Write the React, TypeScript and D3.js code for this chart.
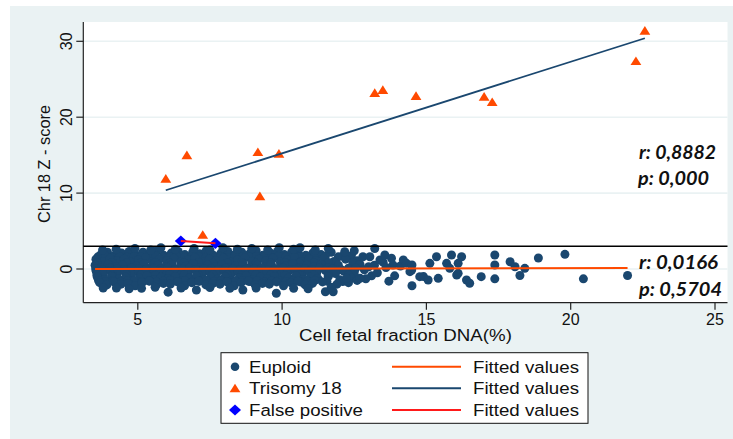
import React from 'react';
import * as d3 from 'd3';

type Pt = [number, number];

const xTicks = [5, 10, 15, 20, 25];
const yTicks = [0, 10, 20, 30];
const threshold = 3;

const euploid: Pt[] = [
  // upper band
  [3.72,1.9],[3.95,2.2],[4.21,1.8],[4.44,2.1],[4.7,2.3],[4.93,1.9],[5.18,2.2],[5.41,2.0],[5.66,2.4],[5.9,1.8],[6.16,2.1],[6.4,2.3],[6.63,1.9],[6.9,2.2],[7.14,2.0],[7.37,2.4],[7.62,1.8],[7.88,2.1],[8.12,2.3],[8.36,1.9],[8.6,2.2],[8.87,2.0],[9.1,2.4],[9.33,1.8],[9.6,2.1],[9.84,2.3],[10.08,1.9],[10.33,2.2],[10.57,2.0],[10.82,1.8],[11.06,2.1],[11.35,1.9],[11.7,2.2],[12.1,1.7],
  [3.62,1.6],[3.88,1.7],[4.13,1.5],[4.38,1.65],[4.63,1.55],[4.88,1.7],[5.12,1.6],[5.37,1.5],[5.62,1.7],[5.87,1.55],[6.12,1.65],[6.37,1.6],[6.62,1.5],[6.87,1.7],[7.12,1.6],[7.37,1.55],[7.62,1.65],[7.87,1.6],[8.12,1.5],[8.37,1.7],[8.62,1.6],[8.87,1.55],[9.12,1.65],[9.37,1.6],[9.62,1.5],[9.87,1.7],[10.12,1.6],[10.37,1.55],[10.62,1.65],[10.87,1.6],[11.12,1.5],[11.5,1.7],[11.95,1.6],[12.4,1.75],
  [3.55,1.3],[3.8,1.0],[4.04,1.4],[4.29,1.1],[4.53,1.3],[4.77,0.9],[5.02,1.2],[5.27,1.5],[5.5,1.0],[5.76,1.3],[6.0,1.1],[6.25,1.4],[6.49,0.9],[6.74,1.2],[6.98,1.5],[7.23,1.0],[7.48,1.3],[7.72,1.1],[7.97,1.4],[8.22,0.9],[8.46,1.2],[8.71,1.5],[8.95,1.0],[9.2,1.3],[9.44,1.1],[9.69,1.4],[9.94,0.9],[10.19,1.2],[10.43,1.5],[10.68,1.0],[10.93,1.3],[11.18,1.1],[11.45,1.4],[11.8,1.0],[12.2,1.3],[12.6,1.1],
  [3.58,0.8],[4.1,0.85],[4.6,0.75],[5.1,0.8],[5.6,0.85],[6.1,0.75],[6.6,0.8],[7.1,0.85],[7.6,0.75],[8.1,0.8],[8.6,0.85],[9.1,0.75],[9.6,0.8],[10.1,0.85],[10.6,0.75],[11.1,0.8],[11.6,0.85],[12.45,0.8],[13.5,0.9],
  [3.52,0.5],[3.74,0.2],[3.98,0.6],[4.23,0.3],[4.47,0.5],[4.72,0.1],[4.96,0.4],[5.21,0.7],[5.45,0.2],[5.7,0.5],[5.94,0.3],[6.19,0.6],[6.43,0.1],[6.68,0.4],[6.92,0.7],[7.17,0.2],[7.42,0.5],[7.66,0.3],[7.91,0.6],[8.15,0.1],[8.4,0.4],[8.65,0.7],[8.89,0.2],[9.14,0.5],[9.38,0.3],[9.63,0.6],[9.88,0.1],[10.12,0.4],[10.37,0.7],[10.61,0.2],[10.86,0.5],[11.1,0.3],[11.36,0.6],[11.62,0.2],[11.95,0.5],[12.3,0.1],[12.7,0.6],[13.0,0.3],
  [3.54,0.0],[3.79,-0.1],[4.04,0.1],[4.29,0.0],[4.54,-0.05],[4.79,0.1],[5.04,0.0],[5.29,-0.1],[5.54,0.05],[5.79,0.0],[6.04,0.1],[6.29,-0.05],[6.54,0.0],[6.79,0.1],[7.04,-0.1],[7.29,0.0],[7.54,0.05],[7.79,-0.05],[8.04,0.1],[8.29,0.0],[8.54,-0.1],[8.79,0.05],[9.04,0.0],[9.29,0.1],[9.54,-0.05],[9.79,0.0],[10.04,0.1],[10.29,-0.1],[10.54,0.0],[10.79,0.05],[11.04,-0.05],[11.3,0.1],[11.75,0.0],[12.05,-0.1],[12.55,0.1],[13.2,0.5],
  [3.56,-0.3],[3.81,-0.6],[4.06,-0.2],[4.3,-0.5],[4.55,-0.3],[4.79,-0.7],[5.04,-0.4],[5.29,-0.1],[5.53,-0.6],[5.78,-0.3],[6.02,-0.5],[6.27,-0.2],[6.51,-0.7],[6.76,-0.4],[7.0,-0.1],[7.25,-0.6],[7.5,-0.3],[7.74,-0.5],[7.99,-0.2],[8.23,-0.7],[8.48,-0.4],[8.73,-0.1],[8.97,-0.6],[9.22,-0.3],[9.46,-0.5],[9.71,-0.2],[9.96,-0.7],[10.2,-0.4],[10.45,-0.1],[10.7,-0.6],[10.94,-0.3],[11.2,-0.5],[11.5,-0.2],[11.85,-0.6],[12.15,-0.3],[12.5,-0.5],[12.85,-0.1],
  [3.58,-0.8],[4.1,-0.85],[4.6,-0.75],[5.1,-0.8],[5.6,-0.85],[6.1,-0.75],[6.6,-0.8],[7.1,-0.85],[7.6,-0.75],[8.1,-0.8],[8.6,-0.85],[9.1,-0.75],[9.6,-0.8],[10.1,-0.85],[10.6,-0.75],[11.1,-0.8],[11.6,-0.85],[12.3,-0.8],[13.1,-0.9],
  [3.6,-1.1],[3.84,-1.4],[4.09,-1.0],[4.33,-1.3],[4.58,-1.1],[4.82,-1.5],[5.07,-1.2],[5.32,-0.9],[5.56,-1.4],[5.81,-1.1],[6.05,-1.3],[6.3,-1.0],[6.54,-1.5],[6.79,-1.2],[7.03,-0.9],[7.28,-1.4],[7.53,-1.1],[7.77,-1.3],[8.02,-1.0],[8.26,-1.5],[8.51,-1.2],[8.76,-0.9],[9.0,-1.4],[9.25,-1.1],[9.49,-1.3],[9.74,-1.0],[9.99,-1.5],[10.23,-1.2],[10.48,-0.9],[10.73,-1.4],[10.97,-1.1],[11.25,-1.3],[11.6,-1.0],[12.0,-1.4],[12.4,-1.2],
  [3.64,-1.5],[3.89,-1.65],[4.14,-1.55],[4.39,-1.7],[4.64,-1.6],[4.89,-1.5],[5.14,-1.65],[5.39,-1.55],[5.64,-1.7],[5.89,-1.6],[6.14,-1.5],[6.39,-1.65],[6.64,-1.55],[6.89,-1.7],[7.14,-1.6],[7.39,-1.5],[7.64,-1.65],[7.89,-1.55],[8.14,-1.7],[8.39,-1.6],[8.64,-1.5],[8.89,-1.65],[9.14,-1.55],[9.39,-1.7],[9.64,-1.6],[9.89,-1.5],[10.14,-1.65],[10.39,-1.55],[10.64,-1.7],[10.89,-1.6],[11.14,-1.5],[11.55,-1.6],[12.1,-1.65],[12.6,-1.5],
  [3.68,-1.8],[3.93,-2.1],[4.17,-1.7],[4.42,-2.0],[4.66,-1.9],[4.91,-2.2],[5.15,-1.8],[5.4,-1.6],[5.64,-2.1],[5.89,-1.9],[6.13,-2.0],[6.38,-1.7],[6.62,-2.2],[6.87,-1.8],[7.11,-1.6],[7.36,-2.1],[7.6,-1.9],[7.85,-2.0],[8.09,-1.7],[8.34,-2.2],[8.58,-1.8],[8.83,-1.6],[9.07,-2.1],[9.32,-1.9],[9.56,-2.0],[9.81,-1.7],[10.05,-2.2],[10.3,-1.8],[10.55,-1.6],[10.8,-2.1],[11.05,-1.9],[11.4,-1.7],[11.9,-2.0],[12.3,-1.8],
  // top edge
  [3.78,2.5],[4.25,2.6],[4.9,2.7],[5.45,2.5],[5.8,2.8],[6.3,2.6],[6.95,2.7],[7.5,2.5],[7.95,2.8],[8.45,2.6],[8.95,2.7],[9.5,2.5],[9.9,2.8],[10.4,2.6],[10.62,2.8],[11.15,2.5],[11.6,2.7],[12.17,2.28],[12.5,2.4],[13.21,2.7],
  // bottom edge
  [3.8,-2.5],[4.26,-2.5],[4.7,-2.6],[5.13,-2.55],[5.6,-2.4],[6.05,-3.05],[6.5,-2.5],[7.03,-2.77],[7.5,-2.45],[8.19,-2.55],[8.64,-2.77],[9.1,-2.5],[9.8,-3.2],[10.4,-2.55],[10.9,-2.6],[11.5,-3.0],[11.77,-3.0],[11.7,-2.4],
  // thinning part
  [12.8,1.62],[13.04,1.62],[13.39,1.19],[13.56,1.84],[13.79,1.41],[13.84,0.53],[13.3,-0.5],[13.6,0.2],[13.9,-0.9],[12.9,-1.3],[12.23,-1.23],[12.7,-1.23],[13.7,-1.6],[14.1,0.4],[14.2,1.2],[14.31,0.75],[14.43,-0.35],[14.49,-0.13],[14.5,-2.2],[14.5,0.53],[14.77,-1.01],
  // sparse right
  [14.9,-1.0],[15.06,-1.45],[15.35,1.62],[15.41,-1.23],[15.12,0.75],[15.7,0.75],[15.87,1.84],[15.81,0.09],[16.1,0.75],[16.05,-0.79],[16.1,-0.57],[16.22,1.62],[16.39,-1.45],[16.5,-1.88],[16.9,-1.01],[17.37,1.84],[17.37,0.53],[17.37,-1.3],[17.9,0.96],[18.07,0.3],[18.24,-0.85],[18.41,0.09],[18.88,1.45],[19.8,1.93],[20.44,-1.3],[21.97,-0.85],
];

const trisomy18: Pt[] = [
  [5.97,11.9],[6.7,15.0],[7.25,4.5],[9.16,15.4],[9.23,9.6],[9.89,15.2],[13.21,23.2],[13.49,23.6],[14.64,22.8],[17.0,22.7],[17.28,22.0],[22.26,27.4],[22.57,31.4],
];

const falsePositive: Pt[] = [
  [6.49,3.69],[7.69,3.38],
];

const legendLabels = ['Euploid', 'Trisomy 18', 'False positive'];
const fitLabel = 'Fitted values';
const xTitle = 'Cell fetal fraction DNA(%)';
const yTitle = 'Chr 18 Z - score';
const statsTrisomy = ['r: 0,8882', 'p: 0,000'];
const statsEuploid = ['r: 0,0166', 'p: 0,5704'];

function fitLine(pts: Pt[]): Pt[] {
  const mx = d3.mean(pts, d => d[0]) as number;
  const my = d3.mean(pts, d => d[1]) as number;
  let sxy = 0, sxx = 0;
  for (const [px, py] of pts) { sxy += (px - mx) * (py - my); sxx += (px - mx) * (px - mx); }
  const b = sxy / sxx;
  const a = my - b * mx;
  const [x0, x1] = d3.extent(pts, d => d[0]) as [number, number];
  return [[x0, a + b * x0], [x1, a + b * x1]];
}

const NAVY = '#1a476f';
const ORANGE = '#ff4a00';
const BLUE = '#0000ff';
const RED = '#ff1a1a';
const BG = '#eaf2f3';
const FONT = '"Liberation Sans", Arial, sans-serif';

const triPath = 'M0,-4.6L5.4,4L-5.4,4Z';
const diaPath = 'M0,-5.6L6,0L0,5.6L-6,0Z';

export default function App() {
  const W = 733, H = 439;
  const left = 83.3, right = 727.5, top = 22, bottom = 302.7;
  const x = d3.scaleLinear().domain([5, 25]).range([137.8, 715]);
  const y = d3.scaleLinear().domain([0, 30]).range([269, 41.3]);
  const line = d3.line<Pt>().x(d => x(d[0])).y(d => y(d[1]));

  const fitE = fitLine(euploid);
  const fitT = fitLine(trisomy18);
  const fitF = fitLine(falsePositive);

  const legendRows = [366.7, 388.3, 410];
  const legendLineColors = [ORANGE, NAVY, RED];
  const legendTextLen = [62, 92.7, 114];

  return (
    <svg width={W} height={H} style={{ position: 'absolute', left: 0, top: 0, background: '#fff' }}>
      <rect x={10} y={6} width={W - 10} height={H - 6} fill={BG} />
      <rect x={left} y={top} width={right - left} height={bottom - top} fill="#fff" />
      {yTicks.map(t => (
        <line key={'g' + t} x1={left} x2={right} y1={y(t)} y2={y(t)} stroke={BG} strokeWidth={1.6} />
      ))}
      {/* axes */}
      <line x1={left} x2={left} y1={top} y2={bottom} stroke="#222" strokeWidth={1.2} />
      <line x1={left} x2={right} y1={bottom} y2={bottom} stroke="#222" strokeWidth={1.2} />
      {yTicks.map(t => (
        <g key={'yt' + t}>
          <line x1={left - 7} x2={left} y1={y(t)} y2={y(t)} stroke="#222" strokeWidth={1.2} />
          <text transform={`translate(71.5,${y(t)}) rotate(-90)`} textAnchor="middle" fontFamily={FONT} fontSize={16} fill="#111">{t}</text>
        </g>
      ))}
      {xTicks.map(t => (
        <g key={'xt' + t}>
          <line x1={x(t)} x2={x(t)} y1={bottom} y2={bottom + 7} stroke="#222" strokeWidth={1.2} />
          <text x={x(t)} y={324.5} textAnchor="middle" fontFamily={FONT} fontSize={16} fill="#111">{t}</text>
        </g>
      ))}
      <text x={(left + right) / 2} y={341} textAnchor="middle" fontFamily={FONT} fontSize={16.3} fill="#111" textLength={213} lengthAdjust="spacingAndGlyphs">{xTitle}</text>
      <text transform={`translate(50,164) rotate(-90)`} textAnchor="middle" fontFamily={FONT} fontSize={16.5} fill="#111" textLength={118} lengthAdjust="spacingAndGlyphs">{yTitle}</text>

      {/* euploid */}
      {euploid.map((d, i) => (
        <circle key={'e' + i} cx={x(d[0])} cy={y(d[1])} r={4.5} fill={NAVY} />
      ))}
      <path d={line(fitE) as string} stroke={ORANGE} strokeWidth={2} fill="none" />
      <line x1={left} x2={right} y1={y(threshold)} y2={y(threshold)} stroke="#000" strokeWidth={1.5} />

      {/* trisomy 18 */}
      {trisomy18.map((d, i) => (
        <path key={'t' + i} d={triPath} transform={`translate(${x(d[0])},${y(d[1])})`} fill={ORANGE} />
      ))}
      <path d={line(fitT) as string} stroke={NAVY} strokeWidth={1.8} fill="none" />

      {/* false positive */}
      {falsePositive.map((d, i) => (
        <path key={'f' + i} d={diaPath} transform={`translate(${x(d[0])},${y(d[1])})`} fill={BLUE} />
      ))}
      <path d={line(fitF) as string} stroke={RED} strokeWidth={2} fill="none" />

      {/* stats */}
      <g fontFamily="Lato, 'Open Sans', sans-serif" fontWeight="bold" fontStyle="italic" fontSize={19} fill="#111">
        <text x={639} y={159} textLength={77} lengthAdjust="spacingAndGlyphs">{statsTrisomy[0]}</text>
        <text x={638} y={185} textLength={71} lengthAdjust="spacingAndGlyphs">{statsTrisomy[1]}</text>
        <text x={639} y={269} textLength={79} lengthAdjust="spacingAndGlyphs">{statsEuploid[0]}</text>
        <text x={639} y={295.5} textLength={83} lengthAdjust="spacingAndGlyphs">{statsEuploid[1]}</text>
      </g>

      {/* legend */}
      <rect x={221} y={352.7} width={367} height={70.6} fill="#fff" stroke="#111" strokeWidth={1} />
      <circle cx={235} cy={legendRows[0]} r={4.3} fill={NAVY} />
      <path d={triPath} transform={`translate(235,${legendRows[1]})`} fill={ORANGE} />
      <path d={diaPath} transform={`translate(235,${legendRows[2]})`} fill={BLUE} />
      {legendLabels.map((lab, i) => (
        <g key={'lg' + i}>
          <text x={249} y={legendRows[i] + 6} fontFamily={FONT} fontSize={16.8} fill="#111" textLength={legendTextLen[i]} lengthAdjust="spacingAndGlyphs">{lab}</text>
          <line x1={392} x2={461} y1={legendRows[i]} y2={legendRows[i]} stroke={legendLineColors[i]} strokeWidth={2} />
          <text x={473} y={legendRows[i] + 6} fontFamily={FONT} fontSize={16.8} fill="#111" textLength={106} lengthAdjust="spacingAndGlyphs">{fitLabel}</text>
        </g>
      ))}
    </svg>
  );
}
